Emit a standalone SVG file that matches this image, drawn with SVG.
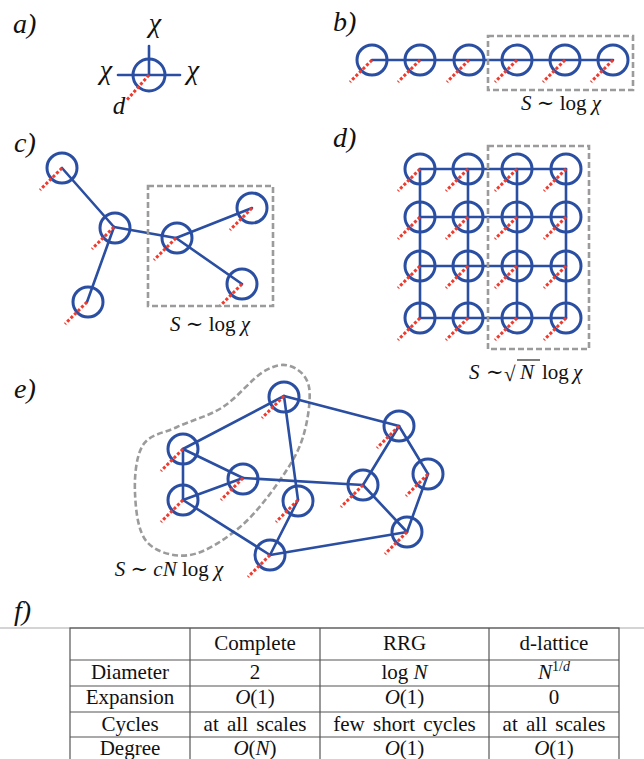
<svg xmlns="http://www.w3.org/2000/svg" width="644" height="759" viewBox="0 0 644 759">
<style>
.t{font-family:"Liberation Serif","DejaVu Serif",serif;fill:#111}
.i{font-style:italic}
.lbl{font-family:"Liberation Serif","DejaVu Serif",serif;font-style:italic;font-size:28px;fill:#111}
.m{font-family:"Liberation Serif","DejaVu Serif",serif;font-size:21px;fill:#111}
.tb{font-family:"Liberation Serif","DejaVu Serif",serif;font-size:21px;fill:#111;text-anchor:middle}
.n{fill:none;stroke:#2a4ea2;stroke-width:3}
.e{fill:none;stroke:#2a4ea2;stroke-width:2.6;stroke-linecap:round;stroke-linejoin:round}
.r{stroke:#ef3a2e;stroke-width:3;stroke-dasharray:3 2;fill:none}
.box{fill:none;stroke:#9b9b9b;stroke-width:2.6;stroke-dasharray:6 3}
.grid{stroke:#555;stroke-width:1.2;fill:none}
</style>

<!-- panel labels -->
<g id="labels">
<text class="lbl" x="13" y="33">a)</text>
<text class="lbl" x="333" y="31">b)</text>
<text class="lbl" x="14" y="152">c)</text>
<text class="lbl" x="333" y="147">d)</text>
<text class="lbl" x="14" y="398">e)</text>
<text class="lbl" x="14" y="620">f)</text>
</g>

<!-- panel a -->
<g id="a-node">
<line class="e" x1="149" y1="46" x2="149" y2="75"/>
<line class="e" x1="118" y1="75" x2="180" y2="75"/>
<circle class="n" cx="149" cy="75" r="16"/>
<line class="r" x1="149" y1="75" x2="126" y2="101"/>
<text class="t i" x="155" y="32" font-size="28" text-anchor="middle">χ</text>
<text class="t i" x="106" y="79" font-size="28" text-anchor="middle">χ</text>
<text class="t i" x="193" y="79" font-size="28" text-anchor="middle">χ</text>
<text class="t i" x="119" y="114" font-size="25" text-anchor="middle">d</text>
</g>

<!-- panel b -->
<g id="b-connectors">
<line class="e" x1="372" y1="60" x2="613" y2="60"/>
</g>
<g id="b-nodes">
<g id="b1"><circle class="n" cx="372" cy="60" r="15"/><line class="r" x1="372" y1="60" x2="350" y2="82"/></g>
<g id="b2"><circle class="n" cx="420" cy="60" r="15"/><line class="r" x1="420" y1="60" x2="398" y2="82"/></g>
<g id="b3"><circle class="n" cx="469" cy="60" r="15"/><line class="r" x1="469" y1="60" x2="447" y2="82"/></g>
<g id="b4"><circle class="n" cx="517" cy="60" r="15"/><line class="r" x1="517" y1="60" x2="495" y2="82"/></g>
<g id="b5"><circle class="n" cx="565" cy="60" r="15"/><line class="r" x1="565" y1="60" x2="543" y2="82"/></g>
<g id="b6"><circle class="n" cx="613" cy="60" r="15"/><line class="r" x1="613" y1="60" x2="591" y2="82"/></g>
</g>
<rect class="box" x="488" y="36" width="145" height="54"/>
<text class="m" x="561" y="110" text-anchor="middle"><tspan class="i">S</tspan> ∼ log <tspan class="i">χ</tspan></text>

<!-- panel c -->
<g id="c-connectors">
<line class="e" x1="62" y1="168" x2="114" y2="227"/>
<line class="e" x1="114" y1="227" x2="87" y2="302"/>
<line class="e" x1="114" y1="227" x2="176" y2="238"/>
<line class="e" x1="176" y1="238" x2="252" y2="208"/>
<line class="e" x1="176" y1="238" x2="242" y2="284"/>
</g>
<g id="c-nodes">
<g id="c1"><circle class="n" cx="62" cy="168" r="15"/><line class="r" x1="62" y1="168" x2="40" y2="190"/></g>
<g id="c2"><circle class="n" cx="115" cy="228" r="15"/><line class="r" x1="114" y1="227" x2="92" y2="249"/></g>
<g id="c3"><circle class="n" cx="177" cy="238" r="15"/><line class="r" x1="176" y1="238" x2="154" y2="260"/></g>
<g id="c4"><circle class="n" cx="252" cy="208" r="15"/><line class="r" x1="252" y1="208" x2="230" y2="230"/></g>
<g id="c5"><circle class="n" cx="242" cy="284" r="15"/><line class="r" x1="242" y1="284" x2="220" y2="306"/></g>
<g id="c6"><circle class="n" cx="88" cy="302" r="15"/><line class="r" x1="87" y1="302" x2="65" y2="324"/></g>
</g>
<rect class="box" x="148" y="186" width="125" height="120"/>
<text class="m" x="210" y="331" text-anchor="middle"><tspan class="i">S</tspan> ∼ log <tspan class="i">χ</tspan></text>

<!-- panel d -->
<g id="d-connectors">
<line class="e" x1="420" y1="169" x2="566" y2="169"/>
<line class="e" x1="420" y1="217" x2="566" y2="217"/>
<line class="e" x1="420" y1="266" x2="566" y2="266"/>
<line class="e" x1="420" y1="318" x2="566" y2="318"/>
<line class="e" x1="420" y1="169" x2="420" y2="318"/>
<line class="e" x1="468" y1="169" x2="468" y2="318"/>
<line class="e" x1="517" y1="169" x2="517" y2="318"/>
<line class="e" x1="566" y1="169" x2="566" y2="318"/>
</g>
<g id="d-nodes">
<g id="d11"><circle class="n" cx="420" cy="169" r="15"/><line class="r" x1="420" y1="169" x2="398" y2="191"/></g>
<g id="d12"><circle class="n" cx="468" cy="169" r="15"/><line class="r" x1="468" y1="169" x2="446" y2="191"/></g>
<g id="d13"><circle class="n" cx="517" cy="169" r="15"/><line class="r" x1="517" y1="169" x2="495" y2="191"/></g>
<g id="d14"><circle class="n" cx="566" cy="169" r="15"/><line class="r" x1="566" y1="169" x2="544" y2="191"/></g>
<g id="d21"><circle class="n" cx="420" cy="217" r="15"/><line class="r" x1="420" y1="217" x2="398" y2="239"/></g>
<g id="d22"><circle class="n" cx="468" cy="217" r="15"/><line class="r" x1="468" y1="217" x2="446" y2="239"/></g>
<g id="d23"><circle class="n" cx="517" cy="217" r="15"/><line class="r" x1="517" y1="217" x2="495" y2="239"/></g>
<g id="d24"><circle class="n" cx="566" cy="217" r="15"/><line class="r" x1="566" y1="217" x2="544" y2="239"/></g>
<g id="d31"><circle class="n" cx="420" cy="266" r="15"/><line class="r" x1="420" y1="266" x2="398" y2="288"/></g>
<g id="d32"><circle class="n" cx="468" cy="266" r="15"/><line class="r" x1="468" y1="266" x2="446" y2="288"/></g>
<g id="d33"><circle class="n" cx="517" cy="266" r="15"/><line class="r" x1="517" y1="266" x2="495" y2="288"/></g>
<g id="d34"><circle class="n" cx="566" cy="266" r="15"/><line class="r" x1="566" y1="266" x2="544" y2="288"/></g>
<g id="d41"><circle class="n" cx="420" cy="318" r="15"/><line class="r" x1="420" y1="318" x2="398" y2="340"/></g>
<g id="d42"><circle class="n" cx="468" cy="318" r="15"/><line class="r" x1="468" y1="318" x2="446" y2="340"/></g>
<g id="d43"><circle class="n" cx="517" cy="318" r="15"/><line class="r" x1="517" y1="318" x2="495" y2="340"/></g>
<g id="d44"><circle class="n" cx="566" cy="318" r="15"/><line class="r" x1="566" y1="318" x2="544" y2="340"/></g>
</g>
<rect class="box" x="488" y="146" width="101" height="203"/>
<g id="d-label">
<text class="m i" x="469" y="379">S</text>
<text class="m" x="486" y="379">∼</text>
<text class="m" x="504" y="381" font-size="26">√</text>
<line x1="517" y1="360" x2="540" y2="360" stroke="#111" stroke-width="1.1"/>
<text class="m i" x="520" y="379">N</text>
<text class="m" x="542" y="379">log</text>
<text class="m i" x="573" y="379">χ</text>
</g>

<!-- panel e -->
<path class="box" d="M290,366 C297.7,368.5 306.8,375.2 309,387 C311.2,398.8 307.8,421.5 303,437 C298.2,452.5 290.5,465 280,480 C269.5,495 255,514.5 240,527 C225,539.5 205.5,552.5 190,555 C174.5,557.5 156.2,552.3 147,542 C137.8,531.7 135.7,509.2 135,493 C134.3,476.8 136,456 143,445 C150,434 163.7,433.3 177,427 C190.3,420.7 208.7,416.2 223,407 C237.3,397.8 251.8,378.8 263,372 C274.2,365.2 282.3,363.5 290,366 Z"/>
<g id="e-connectors">
<line class="e" x1="284" y1="396" x2="183" y2="449"/>
<line class="e" x1="284" y1="396" x2="399" y2="426"/>
<line class="e" x1="284" y1="396" x2="298" y2="500"/>
<line class="e" x1="183" y1="449" x2="183" y2="500"/>
<line class="e" x1="183" y1="449" x2="243" y2="478"/>
<line class="e" x1="183" y1="500" x2="243" y2="478"/>
<line class="e" x1="183" y1="500" x2="270" y2="555"/>
<line class="e" x1="243" y1="478" x2="363" y2="485"/>
<line class="e" x1="298" y1="500" x2="270" y2="555"/>
<line class="e" x1="399" y1="426" x2="363" y2="485"/>
<line class="e" x1="399" y1="426" x2="428" y2="474"/>
<line class="e" x1="428" y1="474" x2="407" y2="532"/>
<line class="e" x1="363" y1="485" x2="407" y2="532"/>
<line class="e" x1="270" y1="555" x2="407" y2="532"/>
</g>
<g id="e-nodes">
<g id="eA"><circle class="n" cx="284" cy="397" r="15"/><line class="r" x1="284" y1="396" x2="262" y2="418"/></g>
<g id="eB"><circle class="n" cx="183" cy="449" r="15"/><line class="r" x1="183" y1="449" x2="161" y2="471"/></g>
<g id="eC"><circle class="n" cx="243" cy="479" r="15"/><line class="r" x1="243" y1="478" x2="221" y2="500"/></g>
<g id="eD"><circle class="n" cx="183" cy="500" r="15"/><line class="r" x1="183" y1="500" x2="161" y2="522"/></g>
<g id="eE"><circle class="n" cx="298" cy="501" r="15"/><line class="r" x1="298" y1="500" x2="276" y2="522"/></g>
<g id="eF"><circle class="n" cx="270" cy="555" r="15"/><line class="r" x1="270" y1="555" x2="248" y2="577"/></g>
<g id="eG"><circle class="n" cx="399" cy="426" r="15"/><line class="r" x1="399" y1="426" x2="377" y2="448"/></g>
<g id="eH"><circle class="n" cx="363" cy="485" r="15"/><line class="r" x1="363" y1="485" x2="341" y2="507"/></g>
<g id="eI"><circle class="n" cx="428" cy="474" r="15"/><line class="r" x1="428" y1="474" x2="406" y2="496"/></g>
<g id="eJ"><circle class="n" cx="407" cy="532" r="15"/><line class="r" x1="407" y1="532" x2="385" y2="554"/></g>
</g>
<text class="m" x="169" y="576" text-anchor="middle"><tspan class="i">S</tspan> ∼ <tspan class="i">cN</tspan> log <tspan class="i">χ</tspan></text>

<!-- panel f table -->
<g id="table">
<line x1="0" y1="628" x2="644" y2="628" stroke="#aaa" stroke-width="1.2"/>
<rect class="grid" x="70" y="628" width="549" height="140"/>
<line class="grid" x1="70" y1="660" x2="619" y2="660"/>
<line class="grid" x1="70" y1="686" x2="619" y2="686"/>
<line class="grid" x1="70" y1="712" x2="619" y2="712"/>
<line class="grid" x1="70" y1="737" x2="619" y2="737"/>
<line class="grid" x1="190" y1="628" x2="190" y2="759"/>
<line class="grid" x1="320" y1="628" x2="320" y2="759"/>
<line class="grid" x1="489" y1="628" x2="489" y2="759"/>
<text class="tb" x="255" y="650">Complete</text>
<text class="tb" x="404.5" y="650">RRG</text>
<text class="tb" x="554" y="650">d-lattice</text>
<text class="tb" x="130" y="679">Diameter</text>
<text class="tb" x="255" y="679">2</text>
<text class="tb" x="404.5" y="679">log <tspan class="i">N</tspan></text>
<text class="tb" x="554" y="679"><tspan class="i">N</tspan><tspan font-size="14" dy="-8">1/<tspan class="i">d</tspan></tspan></text>
<text class="tb" x="130" y="704">Expansion</text>
<text class="tb" x="255" y="704"><tspan class="i">O</tspan>(1)</text>
<text class="tb" x="404.5" y="704"><tspan class="i">O</tspan>(1)</text>
<text class="tb" x="554" y="704">0</text>
<text class="tb" x="130" y="731">Cycles</text>
<text class="tb" x="255" y="731" word-spacing="3">at all scales</text>
<text class="tb" x="404.5" y="731" word-spacing="3">few short cycles</text>
<text class="tb" x="554" y="731" word-spacing="3">at all scales</text>
<text class="tb" x="130" y="755">Degree</text>
<text class="tb" x="255" y="755"><tspan class="i">O</tspan>(<tspan class="i">N</tspan>)</text>
<text class="tb" x="404.5" y="755"><tspan class="i">O</tspan>(1)</text>
<text class="tb" x="554" y="755"><tspan class="i">O</tspan>(1)</text>
</g>
</svg>
